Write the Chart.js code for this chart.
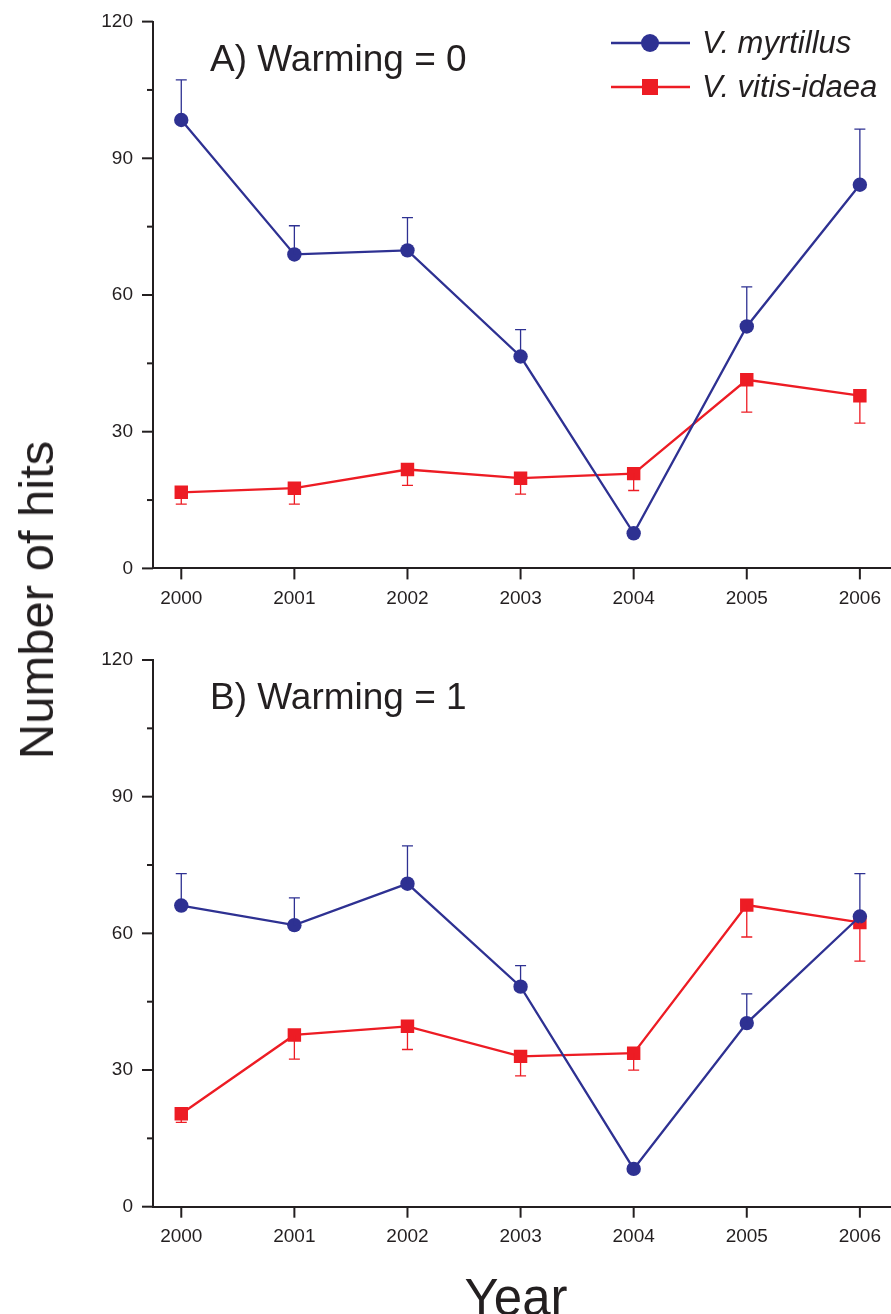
<!DOCTYPE html>
<html>
<head>
<meta charset="utf-8">
<script src="https://cdn.jsdelivr.net/npm/chart.js@4/dist/chart.umd.min.js"></script>
<style>
  body { margin: 0; background: #fff; }
  #wrap { position: relative; width: 891px; height: 1314px; overflow: hidden; font-family: "Liberation Sans", Arial, sans-serif; color: #231f20; }
  .panel { position: absolute; left: 0; width: 892px; height: 640px; }
  #ylab { position: absolute; left: 36px; top: 600px; transform: translate(-50%, -50%) rotate(-90deg); font-size: 49px; white-space: nowrap; }
  #xlab { position: absolute; left: 516px; top: 1297px; transform: translate(-50%, -50%); font-size: 51px; white-space: nowrap; }
</style>
</head>
<body>
<div id="wrap">
  <div class="panel" style="top:0"><canvas id="chartA"></canvas></div>
  <div class="panel" style="top:640px"><canvas id="chartB"></canvas></div>
  <div id="ylab">Number of hits</div>
  <div id="xlab">Year</div>
</div>
<script>
// data
const years = [2000, 2001, 2002, 2003, 2004, 2005, 2006];

// A) Warming = 0
const myrtillusA = [98.4, 68.9, 69.8, 46.5, 7.7, 53.1, 84.2];
const myrtillusErrA = [8.8, 6.3, 7.2, 5.9, 0, 8.7, 12.2];
const vitisA = [16.7, 17.6, 21.7, 19.8, 20.8, 41.4, 37.9];
const vitisErrA = [2.6, 3.5, 3.5, 3.5, 3.7, 7.1, 6.0];

// B) Warming = 1
const myrtillusB = [66.1, 61.8, 70.9, 48.3, 8.3, 40.3, 63.7];
const myrtillusErrB = [7.0, 6.0, 8.3, 4.6, 0, 6.4, 9.4];
const vitisB = [20.4, 37.7, 39.6, 33.0, 33.7, 66.2, 62.4];
const vitisErrB = [1.9, 5.3, 5.1, 4.3, 3.7, 7.0, 8.5];

const yTicks = [0, 30, 60, 90, 120];

const BLUE = '#2e3192';
const RED = '#ed1c24';
const INK = '#231f20';
const FONT = '"Liberation Sans", Arial, sans-serif';

// one-sided error bars (blue up, red down)
const errorBars = {
    id: 'errorBars',
    afterDatasetsDraw(chart) {
        const ctx = chart.ctx;
        const ys = chart.scales.y;
        chart.data.datasets.forEach((ds, di) => {
            const meta = chart.getDatasetMeta(di);
            ctx.save();
            ctx.strokeStyle = ds.borderColor;
            ctx.lineWidth = 1.3;
            meta.data.forEach((pt, i) => {
                const e = ds.errors[i];
                if (!e) return;
                const v = ds.data[i].y + ds.errDir * e;
                const py = ys.getPixelForValue(v);
                ctx.beginPath();
                ctx.moveTo(pt.x, pt.y);
                ctx.lineTo(pt.x, py);
                ctx.moveTo(pt.x - 5.5, py);
                ctx.lineTo(pt.x + 5.5, py);
                ctx.stroke();
            });
            ctx.restore();
        });
    }
};

// outward tick marks, long at labelled values, short in between
const tickMarks = {
    id: 'tickMarks',
    afterDraw(chart) {
        const ctx = chart.ctx;
        const xs = chart.scales.x, ys = chart.scales.y;
        const a = chart.chartArea;
        ctx.save();
        ctx.strokeStyle = INK;
        ctx.lineWidth = 2;
        ys.ticks.forEach(t => {
            const py = ys.getPixelForValue(t.value);
            const len = yTicks.includes(t.value) ? 11 : 6;
            ctx.beginPath();
            ctx.moveTo(a.left - len, py);
            ctx.lineTo(a.left, py);
            ctx.stroke();
        });
        xs.ticks.forEach(t => {
            const px = xs.getPixelForValue(t.value);
            ctx.beginPath();
            ctx.moveTo(px, a.bottom);
            ctx.lineTo(px, a.bottom + 11);
            ctx.stroke();
        });
        ctx.restore();
    }
};

// panel caption and legend
const panelText = {
    id: 'panelText',
    afterDraw(chart, args, opts) {
        const ctx = chart.ctx;
        ctx.save();
        ctx.fillStyle = INK;
        ctx.font = '37px ' + FONT;
        ctx.textBaseline = 'alphabetic';
        ctx.fillText(opts.caption, 210, opts.captionY);
        if (opts.legend) {
            chart.data.datasets.forEach((ds, i) => {
                const y = 43 + i * 44;
                ctx.strokeStyle = ds.borderColor;
                ctx.fillStyle = ds.borderColor;
                ctx.lineWidth = 2.5;
                ctx.beginPath();
                ctx.moveTo(611, y);
                ctx.lineTo(690, y);
                ctx.stroke();
                if (ds.pointStyle === 'rect') {
                    ctx.fillRect(650 - 8, y - 8, 16, 16);
                } else {
                    ctx.beginPath();
                    ctx.arc(650, y, 9, 0, Math.PI * 2);
                    ctx.fill();
                }
                ctx.fillStyle = INK;
                ctx.font = 'italic 31px ' + FONT;
                ctx.textBaseline = 'middle';
                ctx.fillText(ds.label, 702, y + 1);
            });
        }
        ctx.restore();
    }
};

function makeChart(id, myr, myrErr, vit, vitErr, caption, showLegend, top, bottom) {
    const H = 640;
    return new Chart(document.getElementById(id), {
        type: 'line',
        data: {
            datasets: [
                {
                    label: 'V. myrtillus',
                    data: years.map((yr, i) => ({ x: yr, y: myr[i] })),
                    errors: myrErr,
                    errDir: 1,
                    borderColor: BLUE,
                    backgroundColor: BLUE,
                    borderWidth: 2.3,
                    pointStyle: 'circle',
                    pointRadius: 7.2,
                    pointHoverRadius: 7.2,
                    pointBorderWidth: 0,
                },
                {
                    label: 'V. vitis-idaea',
                    data: years.map((yr, i) => ({ x: yr, y: vit[i] })),
                    errors: vitErr,
                    errDir: -1,
                    borderColor: RED,
                    backgroundColor: RED,
                    borderWidth: 2.3,
                    pointStyle: 'rect',
                    pointRadius: 9.5,
                    pointHoverRadius: 9.5,
                    pointBorderWidth: 0,
                },
            ],
        },
        options: {
            responsive: false,
            animation: false,
            layout: { autoPadding: false, padding: { top: top, left: 0, right: 0, bottom: 0 } },
            plugins: {
                legend: { display: false },
                tooltip: { enabled: false },
                panelText: { caption: caption, captionY: top + 49, legend: showLegend },
            },
            scales: {
                x: {
                    type: 'linear',
                    min: 1999.75,
                    max: 2006.27,
                    afterBuildTicks: s => { s.ticks = years.map(v => ({ value: v })); },
                    afterFit: s => { s.height = H - bottom; },
                    grid: { display: false },
                    border: { display: true, color: INK, width: 2 },
                    ticks: {
                        color: INK,
                        font: { family: FONT, size: 19 },
                        padding: 11,
                        maxRotation: 0,
                        callback: v => String(v),
                    },
                },
                y: {
                    min: 0,
                    max: 120,
                    afterFit: s => { s.width = 153; },
                    grid: { display: false },
                    border: { display: true, color: INK, width: 2 },
                    ticks: {
                        stepSize: 15,
                        color: INK,
                        font: { family: FONT, size: 19, lineHeight: 0.6 },
                        padding: 12,
                        callback: v => (yTicks.includes(v) ? String(v) : ''),
                    },
                },
            },
        },
        plugins: [errorBars, tickMarks, panelText],
    });
}

function sizeCanvas(id) {
    const c = document.getElementById(id);
    c.width = 892;
    c.height = 640;
    c.style.width = '892px';
    c.style.height = '640px';
}
sizeCanvas('chartA');
sizeCanvas('chartB');

makeChart('chartA', myrtillusA, myrtillusErrA, vitisA, vitisErrA, 'A) Warming = 0', true, 21.6, 568.4);
makeChart('chartB', myrtillusB, myrtillusErrB, vitisB, vitisErrB, 'B) Warming = 1', false, 20, 566.7);
</script>
</body>
</html>
